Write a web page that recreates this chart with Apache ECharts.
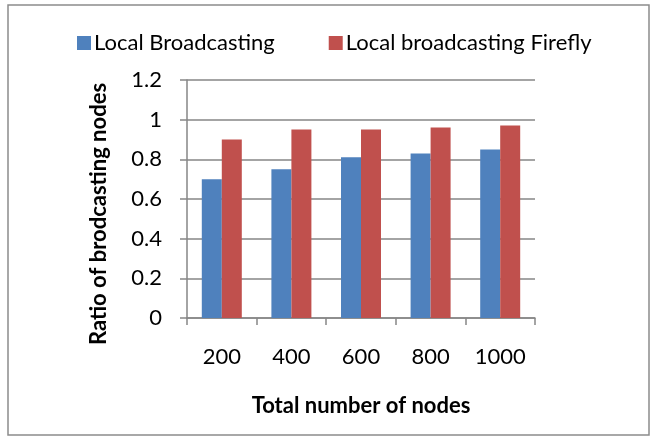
<!DOCTYPE html>
<html>
<head>
<meta charset="utf-8">
<script src="https://cdn.jsdelivr.net/npm/echarts@6/dist/echarts.min.js"></script>
<style>
  html, body { margin: 0; padding: 0; background: #fff; }
  #chart { width: 657px; height: 439px; }
</style>
</head>
<body>
<div id="chart"></div>
<script>
const categories = ['200', '400', '600', '800', '1000'];
const localBroadcasting = [0.70, 0.75, 0.81, 0.83, 0.85];
const localFirefly = [0.90, 0.95, 0.95, 0.96, 0.97];

const font = 'Lato, "Open Sans", sans-serif';
const axisGray = '#868686';

const chart = echarts.init(document.getElementById('chart'), null, { renderer: 'canvas' });
chart.setOption({
  animation: false,
  textStyle: { fontFamily: font },
  graphic: [
    {
      type: 'rect',
      shape: { x: 8, y: 5, width: 641, height: 430 },
      style: { fill: 'none', stroke: '#8c8c8c', lineWidth: 1.5 },
      silent: true
    }
  ],
  legend: {
    top: 27,
    left: 72,
    itemGap: 54,
    itemWidth: 14,
    itemHeight: 14,
    icon: 'rect',
    textStyle: { fontSize: 22, color: '#000', fontFamily: font, padding: [0, 0, 0, -2] },
    data: ['Local Broadcasting', 'Local broadcasting Firefly']
  },
  grid: { left: 187, right: 122, top: 80, bottom: 121, containLabel: false },
  xAxis: {
    type: 'category',
    data: categories,
    name: 'Total number of nodes',
    nameLocation: 'middle',
    nameGap: 77,
    nameTextStyle: { fontSize: 22, fontWeight: 'bold', color: '#000' },
    axisLine: { lineStyle: { color: axisGray, width: 1.5 } },
    axisTick: { show: true, length: 7, lineStyle: { color: axisGray, width: 1.5 } },
    axisLabel: { fontSize: 22, color: '#000', margin: 28 }
  },
  yAxis: {
    type: 'value',
    min: 0,
    max: 1.2,
    interval: 0.2,
    name: 'Ratio of brodcasting nodes',
    nameLocation: 'middle',
    nameGap: 77,
    nameTextStyle: { fontSize: 22, fontWeight: 'bold', color: '#000', padding: [0, 30, 0, 0] },
    axisLine: { show: true, lineStyle: { color: axisGray, width: 1.5 } },
    axisTick: { show: true, length: 7, lineStyle: { color: axisGray, width: 1.5 } },
    splitLine: { show: true, lineStyle: { color: axisGray, width: 1.5 } },
    axisLabel: {
      fontSize: 22,
      color: '#000',
      margin: 25,
      formatter: v => String(Math.round(v * 10) / 10)
    }
  },
  series: [
    {
      name: 'Local Broadcasting',
      type: 'bar',
      data: localBroadcasting,
      barWidth: 20,
      barGap: '0%',
      itemStyle: { color: '#4F81BD' }
    },
    {
      name: 'Local broadcasting Firefly',
      type: 'bar',
      data: localFirefly,
      barWidth: 20,
      barGap: '0%',
      itemStyle: { color: '#C0504D' }
    }
  ]
});
</script>
</body>
</html>
